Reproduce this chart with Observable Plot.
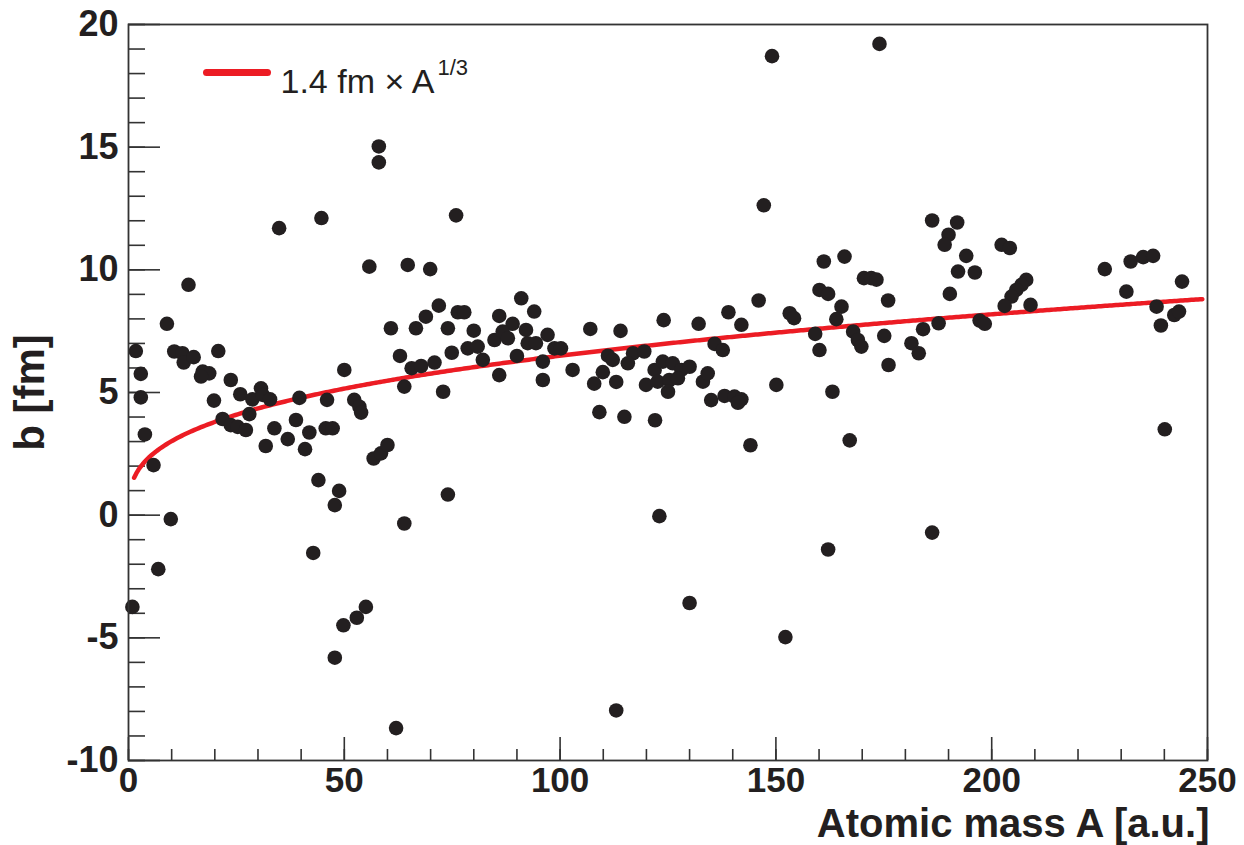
<!DOCTYPE html>
<html>
<head>
<meta charset="utf-8">
<script src="https://cdn.jsdelivr.net/npm/d3@7"></script>
<script src="https://cdn.jsdelivr.net/npm/@observablehq/plot@0.6"></script>
<style>
  html, body { margin: 0; padding: 0; background: #fff; }
  #chart { width: 1244px; height: 845px; }
</style>
</head>
<body>
<div id="chart"></div>
<script>
// ---- data ----
const massA = [
  0.9, 1.7, 2.85, 2.85, 3.8, 5.8, 6.9, 8.9, 9.8, 10.6,
  12.5, 12.8, 15.1, 13.9, 17.2, 18.7, 16.8, 20.8, 19.8, 23.7,
  25.9, 21.8, 23.7, 25.3, 27.2, 28.0, 28.7, 30.7, 31.1, 32.8,
  31.8, 33.8, 36.9, 38.8, 39.6, 40.9, 41.9, 34.9, 44.7, 45.7,
  47.3, 46.0, 44.0, 48.8, 47.8, 42.8, 47.8, 49.8, 52.9, 55.0,
  62.0, 50.0, 52.3, 53.5, 53.9, 55.8, 58.0, 58.0, 56.8, 58.5,
  60.0, 63.9, 60.8, 62.9, 63.9, 64.7, 65.6, 66.6, 75.9, 69.9,
  91.0, 94.0, 71.9, 76.3, 77.8, 68.9, 74.0, 85.9, 80.0, 89.0,
  84.8, 86.7, 87.9, 92.1, 92.5, 94.4, 97.1, 78.6, 80.9, 82.1,
  74.9, 70.9, 67.8, 90.0, 96.0, 98.7, 100.2, 85.9, 96.0, 72.9,
  102.9, 107.0, 114.0, 124.0, 111.1, 112.2, 109.9, 107.9, 113.0, 116.9,
  119.5, 115.7, 119.9, 121.9, 123.8, 126.1, 128.1, 130.0, 122.6, 125.3,
  127.3, 125.0, 109.1, 114.9, 122.0, 147.2, 186.2, 161.1, 165.9, 170.4,
  172.1, 173.3, 160.1, 162.1, 176.0, 146.0, 165.2, 153.2, 154.2, 139.0,
  132.1, 142.0, 164.0, 167.9, 169.0, 169.8, 159.1, 160.1, 175.1, 187.7,
  184.1, 181.4, 183.1, 176.1, 135.8, 137.7, 133.1, 134.2, 135.0, 138.1,
  140.4, 142.0, 141.2, 150.1, 163.1, 144.1, 167.1, 192.0, 190.0, 189.1,
  194.1, 192.2, 196.1, 190.3, 202.3, 204.2, 208.0, 206.9, 205.7, 204.6,
  203.0, 209.0, 197.2, 198.4, 226.2, 232.2, 235.1, 237.4, 231.2, 244.1,
  238.2, 239.2, 242.3, 243.4, 240.1, 74.0, 123.0, 130.0, 152.2, 113.0,
  162.1, 186.2, 149.1, 174.0
];
const impactB = [
  -3.74, 6.69, 5.76, 4.8, 3.29, 2.04, -2.2, 7.80, -0.16, 6.67,
  6.6, 6.22, 6.44, 9.39, 5.85, 5.78, 5.65, 6.69, 4.67, 5.51,
  4.93, 3.92, 3.67, 3.6, 3.47, 4.12, 4.72, 5.17, 4.90, 4.72,
  2.82, 3.54, 3.10, 3.88, 4.78, 2.69, 3.37, 11.70, 12.11, 3.54,
  3.54, 4.7, 1.43, 0.99, 0.41, -1.54, -5.81, -4.49, -4.18, -3.74,
  -8.68, 5.92, 4.7, 4.42, 4.18, 10.13, 15.03, 14.38, 2.31, 2.52,
  2.86, -0.34, 7.62, 6.49, 5.24, 10.20, 5.99, 7.62, 12.22, 10.03,
  8.84, 8.30, 8.54, 8.27, 8.27, 8.09, 7.62, 8.12, 7.52, 7.80,
  7.14, 7.48, 7.21, 7.55, 7.01, 7.01, 7.35, 6.80, 6.87, 6.33,
  6.62, 6.22, 6.08, 6.49, 6.26, 6.80, 6.80, 5.71, 5.51, 5.03,
  5.92, 7.59, 7.51, 7.95, 6.50, 6.33, 5.83, 5.36, 5.43, 6.60,
  6.67, 6.19, 5.31, 5.92, 6.26, 6.19, 5.92, 6.05, 5.44, 5.51,
  5.58, 5.03, 4.20, 4.01, 3.87, 12.63, 12.01, 10.34, 10.54, 9.66,
  9.66, 9.6, 9.18, 9.02, 8.75, 8.75, 8.50, 8.23, 8.03, 8.27,
  7.80, 7.76, 7.99, 7.48, 7.14, 6.87, 7.39, 6.73, 7.31, 7.82,
  7.58, 7.01, 6.60, 6.12, 6.98, 6.73, 5.44, 5.78, 4.69, 4.86,
  4.83, 4.72, 4.58, 5.31, 5.03, 2.85, 3.05, 11.93, 11.43, 11.02,
  10.57, 9.93, 9.89, 9.02, 11.02, 10.89, 9.59, 9.39, 9.18, 8.91,
  8.53, 8.57, 7.93, 7.80, 10.03, 10.34, 10.52, 10.57, 9.11, 9.52,
  8.50, 7.73, 8.16, 8.30, 3.50, 0.84, -0.04, -3.58, -4.97, -7.96,
  -1.40, -0.71, 18.71, 19.21
];
// fit curve b = 1.4 fm x A^(1/3), sampled along A
const curveCoefficient = 1.4;
const curveA = d3.range(1.3, 249.01, 0.5);

// axis ticks
const xMajorTicks = [0, 50, 100, 150, 200, 250];
const xMinorTicks = d3.range(0, 251, 10);
const yMajorTicks = [-10, -5, 0, 5, 10, 15, 20];
const yMinorTicks = d3.range(-10, 21, 1);

// labels
const xTitle = "Atomic mass A [a.u.]";
const yTitle = "b [fm]";
const legendText = "1.4 fm \u00d7 A";
const legendSup = "1/3";

// ---- tables for Plot ----
const points = massA.map((a, i) => ({A: a, b: impactB[i]}));
const curve = curveA.map(a => ({A: a, b: curveCoefficient * Math.cbrt(a)}));

const ink = "#231f20";
const red = "#ec1c24";
const axisCol = "#333333";
const font = "'Liberation Sans', Arial, Helvetica, sans-serif";
const plainFormat = d => String(d);

const segShape = {draw(ctx, l) { ctx.moveTo(0, 0); ctx.lineTo(0, -l); }};

const chart = Plot.plot({
  width: 1244,
  height: 845,
  marginLeft: 128,
  marginRight: 37,
  marginTop: 24,
  marginBottom: 85,
  style: {fontFamily: font, background: "#fff", color: ink, overflow: "visible"},
  x: {domain: [0, 250]},
  y: {domain: [-10, 20]},
  marks: [
    // minor + major ticks pointing inward
    Plot.axisY(yMinorTicks, {tickSize: -17, text: null, label: null, stroke: axisCol, strokeWidth: 1.6}),
    Plot.axisY(yMajorTicks, {tickSize: -32, text: null, label: null, stroke: axisCol, strokeWidth: 1.6}),
    Plot.axisX(xMinorTicks, {tickSize: -11, text: null, label: null, stroke: axisCol, strokeWidth: 1.6}),
    Plot.axisX(xMajorTicks, {tickSize: -23, text: null, label: null, stroke: axisCol, strokeWidth: 1.6}),
    // tick labels
    Plot.axisY(yMajorTicks, {tickSize: 0, tickPadding: 10, label: null, tickFormat: plainFormat, fontSize: 36, fontWeight: "bold", fill: ink}),
    Plot.axisX(xMajorTicks, {tickSize: 0, tickPadding: 7, label: null, tickFormat: plainFormat, fontSize: 35, fontWeight: "bold", fill: ink}),
    // fit curve
    Plot.line(curve, {x: "A", y: "b", stroke: red, strokeWidth: 4.5}),
    // data points
    Plot.dot(points, {x: "A", y: "b", r: 7.3, fill: ink, stroke: "none"}),
    Plot.frame({stroke: axisCol, strokeWidth: 1.8}),
    // axis titles
    Plot.text([xTitle], {frameAnchor: "bottom-right", dx: 2, dy: 76, text: d => d, textAnchor: "end", lineAnchor: "bottom", fontSize: 40, fontWeight: "bold", fill: ink}),
    Plot.text([yTitle], {frameAnchor: "left", dx: -85, dy: 0, text: d => d, rotate: -90, textAnchor: "middle", lineAnchor: "bottom", fontSize: 42, fontWeight: "bold", fill: ink}),
    // legend
    Plot.vector([legendText], {frameAnchor: "top-left", dx: 78, dy: 48, length: 61, rotate: 90, anchor: "start", shape: segShape, stroke: red, strokeWidth: 7}),
    Plot.text([legendText], {frameAnchor: "top-left", dx: 152, dy: 68, text: d => d, textAnchor: "start", lineAnchor: "bottom", fontSize: 34, fill: ink}),
    Plot.text([legendSup], {frameAnchor: "top-left", dx: 309, dy: 50, text: d => d, textAnchor: "start", lineAnchor: "bottom", fontSize: 22, fill: ink})
  ]
});
document.getElementById("chart").appendChild(chart);
</script>
</body>
</html>
